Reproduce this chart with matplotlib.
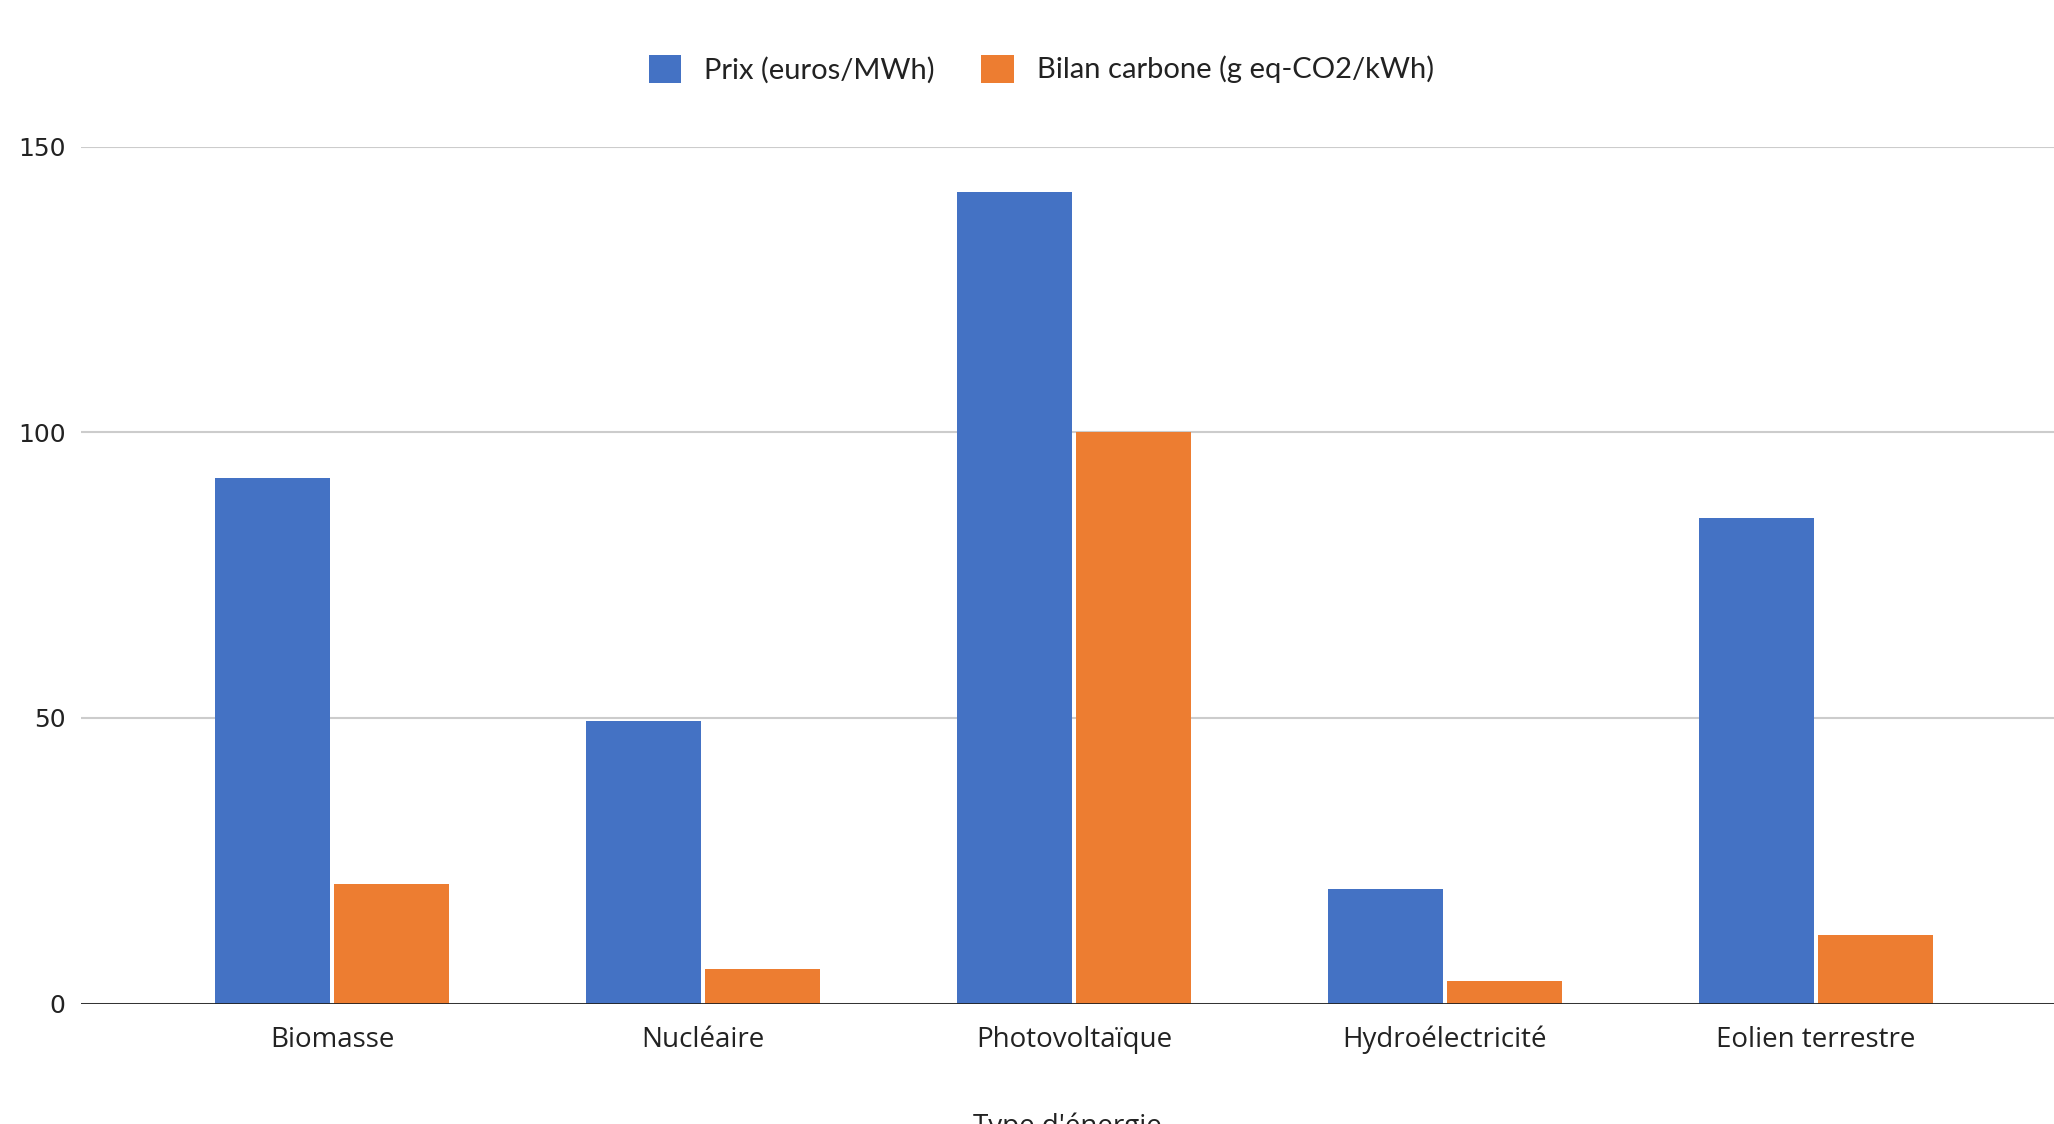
import matplotlib.pyplot as plt
import numpy as np
from matplotlib.patches import Patch

# donnees par type d'energie
types = ["Biomasse", "Nucléaire", "Photovoltaïque", "Hydroélectricité", "Eolien terrestre"]
prix = [92, 49.5, 142, 20, 85]
bilan_carbone = [21, 6, 100, 4, 12]

bleu = "#4472C4"
orange = "#ED7D31"

fig = plt.figure(figsize=(20.54, 11.24), dpi=100)
ax = fig.add_axes([81 / 2054, 1 - 1003.5 / 1124, 1 - 81 / 2054, (1003.5 - 146.7) / 1124])

x = np.arange(len(types))
w = 0.31
ax.bar(x - 0.1605, prix, w, color=bleu, zorder=3)
ax.bar(x + 0.1605, bilan_carbone, w, color=orange, zorder=3)

ax.set_xlim(-0.678, 4.643)
ax.set_ylim(0, 150)
ax.set_yticks([0, 50, 100, 150])
ax.grid(axis="y", color="#cccccc", linewidth=1.5, zorder=0)
ax.axhline(0, color="#222222", linewidth=2, zorder=4)

for s in ax.spines.values():
    s.set_visible(False)
ax.tick_params(axis="both", length=0)
ax.tick_params(axis="y", pad=11, labelsize=18, labelcolor="#222222")
ax.set_xticks(x)
ax.set_xticklabels(types, fontsize=20, family="Open Sans", color="#222222")
ax.tick_params(axis="x", pad=16)

ax.set_xlabel("Type d'énergie", fontsize=20, family="Open Sans", color="#222222", labelpad=42)

handles = [Patch(facecolor=bleu), Patch(facecolor=orange)]
fig.legend(handles, ["Prix (euros/MWh)", "Bilan carbone (g eq-CO2/kWh)"],
           loc="center", bbox_to_anchor=(0.507, 1 - 69 / 1124), ncol=2, frameon=False,
           prop={"family": "Lato", "size": 21}, handlelength=1.1, handleheight=1.1,
           handletextpad=0.8, columnspacing=1.6, labelcolor="#222222")

fig.savefig("out.png", dpi=100)
